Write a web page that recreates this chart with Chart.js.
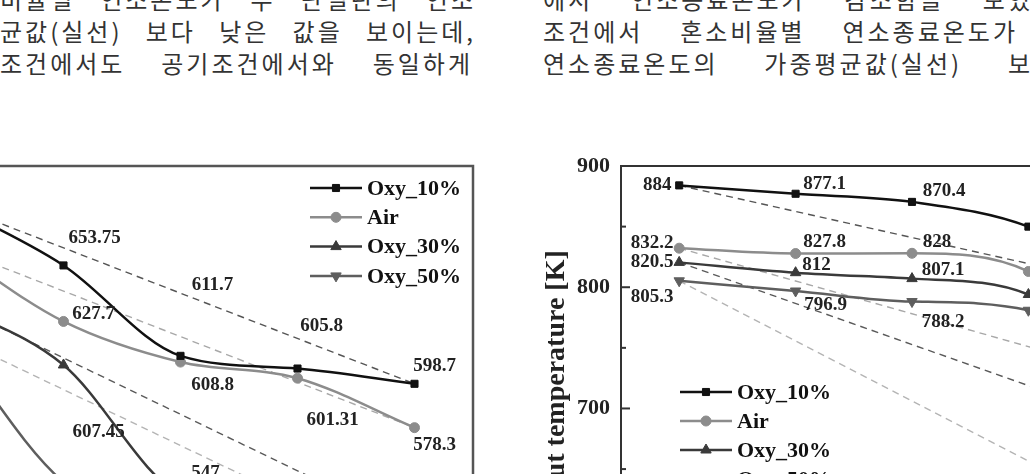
<!DOCTYPE html>
<html>
<head>
<meta charset="utf-8">
<script src="https://cdn.jsdelivr.net/npm/chart.js@4.4.1/dist/chart.umd.min.js"></script>
<style>
    html, body { margin: 0; padding: 0; background: #fff; }
    body { width: 1030px; height: 474px; overflow: hidden; position: relative; }
    .txt {
        position: absolute;
        font-family: "Noto Sans CJK KR", sans-serif;
        font-size: 24px;
        line-height: 26px;
        height: 26px;
        letter-spacing: 3px;
        color: #333;
        text-align: justify;
        text-align-last: justify;
        white-space: normal;
    }
    canvas { position: absolute; }
</style>
</head>
<body>

<div class="txt" style="left:0; top:-14px; width:476px;">비율별 연소온도가 두 단일탄의 연소</div>
<div class="txt" style="left:0; top:18px; width:476px;">균값(실선) 보다 낮은 값을 보이는데,</div>
<div class="txt" style="left:0; top:50px; width:473px;">조건에서도 공기조건에서와 동일하게</div>
<div class="txt" style="left:543px; top:-14px; width:490px;">에서 연소종료온도가 감소함을 보였</div>
<div class="txt" style="left:543px; top:18px; width:475px;">조건에서 혼소비율별 연소종료온도가</div>
<div class="txt" style="left:543px; top:50px; width:490px;">연소종료온도의 가중평균값(실선) 보</div>

<canvas id="leftChart" width="620" height="480" style="left:-130px; top:140px;"></canvas>
<canvas id="rightChart" width="686" height="523" style="left:537px; top:140px;"></canvas>

<script>
// 혼소비율 (x축 범주, 그림에서는 잘려 보이지 않음)
const categories = ['0', '25', '50', '75', '100'];
const seriesNames = ['Oxy_10%', 'Air', 'Oxy_30%', 'Oxy_50%'];

// 왼쪽 그래프 값 [K]
const leftOxy10 = [683, 653.75, 611.7, 605.8, 598.7];
const leftAir = [663, 627.7, 608.8, 601.31, 578.3];
const leftOxy30 = [637, 607.45, 547, 538, 532];
const leftOxy50 = [622, 553, 530, 522, 518];

// 오른쪽 그래프 값 (연소종료온도) [K]
const rightOxy10 = [884, 877.1, 870.4, 850, 798];
const rightAir = [832.2, 827.8, 828, 813, 724];
const rightOxy30 = [820.5, 812, 807.1, 794, 685];
const rightOxy50 = [805.3, 796.9, 788.2, 781, 607];

// y축 범위와 눈금
const leftYRange = [500, 700];
const rightYRange = [510, 900];
const rightTickStep = 50;
const rightLabelStep = 100;

const serif = '"Liberation Serif", "Times New Roman", serif';

const styles = [
    { color: '#111111', trend: '#555555', pointStyle: 'rect', radius: 5, rotation: 0 },
    { color: '#8c8c8c', trend: '#a8a8a8', pointStyle: 'circle', radius: 5, rotation: 0 },
    { color: '#3a3a3a', trend: '#5a5a5a', pointStyle: 'triangle', radius: 6, rotation: 0 },
    { color: '#5e5e5e', trend: '#b4b4b4', pointStyle: 'triangle', radius: 6, rotation: 180 }
];

// 첫 점과 끝 점을 잇는 점선
function trendLine(values) {
    return values.map((v, i) => (i === 0 || i === values.length - 1) ? v : null);
}

function buildDatasets(seriesList) {
    const solid = seriesList.map((values, i) => ({
        label: seriesNames[i],
        data: values,
        borderColor: styles[i].color,
        backgroundColor: styles[i].color,
        borderWidth: 2.5,
        pointStyle: styles[i].pointStyle,
        pointRadius: styles[i].radius,
        pointRotation: styles[i].rotation,
        pointBorderWidth: 1,
        pointBorderColor: styles[i].color,
        cubicInterpolationMode: 'monotone',
        order: i
    }));
    const dashed = seriesList.map((values, i) => ({
        label: seriesNames[i] + ' avg',
        isTrend: true,
        data: trendLine(values),
        borderColor: styles[i].trend,
        borderWidth: 1.4,
        borderDash: [7, 5],
        pointRadius: 0,
        spanGaps: true,
        tension: 0,
        order: 10 + i
    }));
    return solid.concat(dashed);
}

const frame = {
    id: 'frame',
    afterDraw(chart, args, opts) {
        const { ctx, chartArea } = chart;
        ctx.save();
        ctx.strokeStyle = opts.color;
        ctx.lineWidth = opts.width;
        ctx.strokeRect(chartArea.left, chartArea.top, chartArea.width, chartArea.height);
        const y = chart.scales.y;
        if (opts.innerTicks && y.options.display) {
            y.ticks.forEach(t => {
                if (t.value % rightTickStep !== 0) return;
                const len = t.value % rightLabelStep === 0 ? 9 : 5;
                const py = y.getPixelForValue(t.value);
                ctx.beginPath();
                ctx.moveTo(chartArea.left, py);
                ctx.lineTo(chartArea.left + len, py);
                ctx.stroke();
            });
        }
        ctx.restore();
    }
};

const pointLabels = {
    id: 'pointLabels',
    afterDatasetsDraw(chart, args, opts) {
        const ctx = chart.ctx;
        ctx.save();
        ctx.font = opts.font;
        ctx.fillStyle = opts.color;
        ctx.textAlign = 'center';
        ctx.textBaseline = 'middle';
        opts.offsets.forEach((offs, di) => {
            const meta = chart.getDatasetMeta(di);
            meta.data.forEach((pt, i) => {
                if (!offs[i]) return;
                const v = chart.data.datasets[di].data[i];
                ctx.fillText(String(v), pt.x + offs[i][0], pt.y + offs[i][1]);
            });
        });
        ctx.restore();
    }
};

const boxLegend = {
    id: 'boxLegend',
    afterDraw(chart, args, opts) {
        const { ctx, chartArea } = chart;
        const x0 = opts.fromRight ? chartArea.right + opts.x : chartArea.left + opts.x;
        let y = chartArea.top + opts.y;
        ctx.save();
        ctx.font = opts.font;
        ctx.textAlign = 'left';
        ctx.textBaseline = 'middle';
        chart.data.datasets.forEach(ds => {
            if (ds.isTrend) return;
            ctx.strokeStyle = ds.borderColor;
            ctx.fillStyle = ds.borderColor;
            ctx.lineWidth = ds.borderWidth;
            ctx.beginPath();
            ctx.moveTo(x0, y);
            ctx.lineTo(x0 + 52, y);
            ctx.stroke();
            ctx.lineWidth = 1;
            Chart.helpers.drawPoint(ctx, {
                pointStyle: ds.pointStyle,
                radius: ds.pointRadius,
                rotation: ds.pointRotation,
                borderWidth: 1
            }, x0 + 26, y);
            ctx.fillStyle = '#111';
            ctx.fillText(ds.label, x0 + 57, y + 1);
            y += opts.rowHeight;
        });
        ctx.restore();
    }
};

// 값 표시 위치 (점 기준 dx, dy)
const leftLabelOffsets = [
    [[-30, -26], [31, -27], [32, -71], [24, -42], [20, -18]],
    [[-30, -8], [30, -7], [32, 23], [35, 42], [20, 17]],
    [[-30, 20], [35, 67], [25, -22], [25, 20], [20, 20]],
    [[-30, 30], [30, 25], [25, 25], [25, 25], [20, 20]]
];
const rightLabelOffsets = [
    [[-22, 0], [29, -10], [32, -11], [30, -12], [30, -12]],
    [[-27, -5], [29, -11], [25, -11], [30, -12], [30, -12]],
    [[-27, 0], [21, -8], [31, -9], [30, -10], [30, -10]],
    [[-27, 16], [30, 14], [31, 21], [30, 20], [30, 20]]
];

const noX = { type: 'category', display: false, offset: true, grid: { display: false } };

new Chart(document.getElementById('leftChart').getContext('2d'), {
    type: 'line',
    data: { labels: categories, datasets: buildDatasets([leftOxy10, leftAir, leftOxy30, leftOxy50]) },
    options: {
        responsive: false,
        animation: false,
        layout: { padding: { left: 18, right: 17, top: 26, bottom: 24 } },
        scales: {
            x: noX,
            y: { display: false, min: leftYRange[0], max: leftYRange[1] }
        },
        plugins: {
            legend: { display: false },
            tooltip: { enabled: false },
            frame: { color: '#555', width: 2.5, innerTicks: false },
            pointLabels: { font: 'bold 19px ' + serif, color: '#222', offsets: leftLabelOffsets },
            boxLegend: { fromRight: true, x: -163, y: 22, rowHeight: 29.3, font: 'bold 22px ' + serif }
        }
    },
    plugins: [frame, pointLabels, boxLegend]
});

new Chart(document.getElementById('rightChart').getContext('2d'), {
    type: 'line',
    data: { labels: categories, datasets: buildDatasets([rightOxy10, rightAir, rightOxy30, rightOxy50]) },
    options: {
        responsive: false,
        animation: false,
        layout: { padding: { left: 0, right: 20, top: 26, bottom: 17 } },
        scales: {
            x: noX,
            y: {
                min: rightYRange[0],
                max: rightYRange[1],
                afterFit(scale) { scale.width = 84; },
                grid: { display: false, drawTicks: false },
                border: { display: false },
                ticks: {
                    stepSize: rightTickStep,
                    padding: 11,
                    color: '#222',
                    font: { family: serif, size: 22, weight: 'bold' },
                    callback: v => (v % rightLabelStep === 0 ? v : '')
                },
                title: {
                    display: true,
                    text: 'Burnout temperature [K]',
                    color: '#222',
                    font: { family: serif, size: 28, weight: 'bold' },
                    padding: { top: 3, bottom: 0 }
                }
            }
        },
        plugins: {
            legend: { display: false },
            tooltip: { enabled: false },
            frame: { color: '#333', width: 2, innerTicks: true },
            pointLabels: { font: 'bold 19px ' + serif, color: '#222', offsets: rightLabelOffsets },
            boxLegend: { fromRight: false, x: 59, y: 226, rowHeight: 29, font: 'bold 22px ' + serif }
        }
    },
    plugins: [frame, pointLabels, boxLegend]
});
</script>
</body>
</html>
